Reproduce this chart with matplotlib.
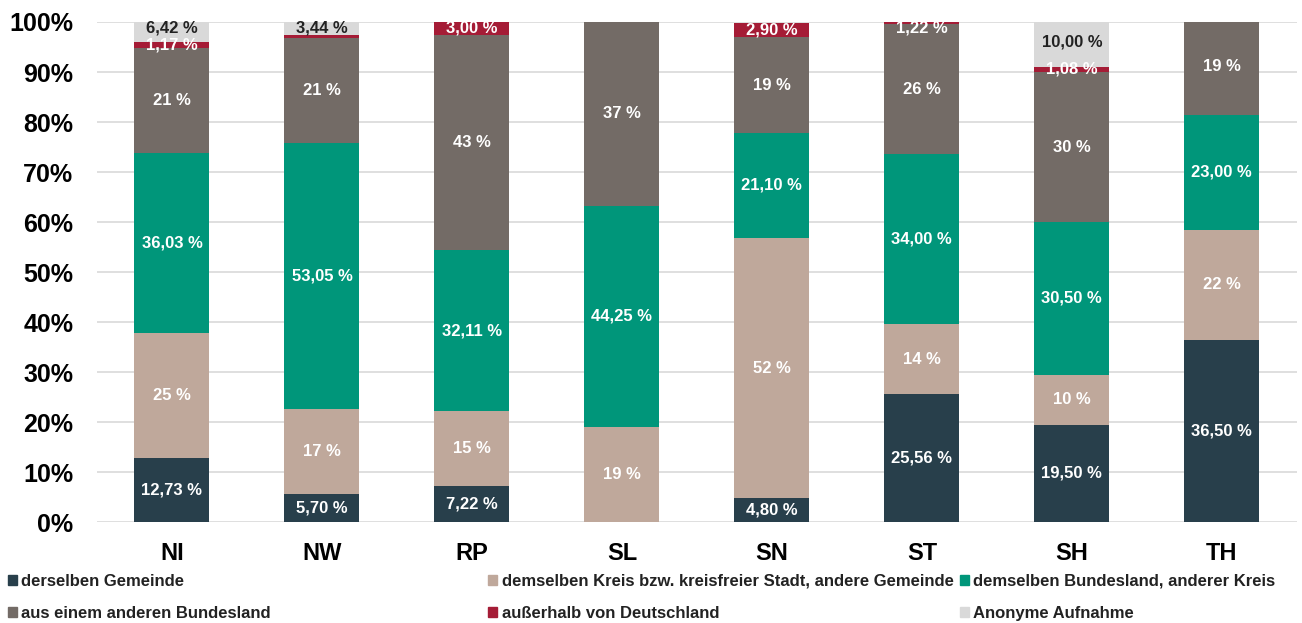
import matplotlib.pyplot as plt
import matplotlib.patches as mpatches
import numpy as np

plt.rcParams['font.family'] = ['Liberation Sans', 'DejaVu Sans']

laender = ['NI', 'NW', 'RP', 'SL', 'SN', 'ST', 'SH', 'TH']

serien = ['derselben Gemeinde',
          'demselben Kreis bzw. kreisfreier Stadt, andere Gemeinde',
          'demselben Bundesland, anderer Kreis',
          'aus einem anderen Bundesland',
          'außerhalb von Deutschland',
          'Anonyme Aufnahme']

gemeinde = [12.73, 5.70, 7.22, 0, 4.80, 25.56, 19.50, 36.50]
kreis = [25, 17, 15, 19, 52, 14, 10, 22]
bundesland = [36.03, 53.05, 32.11, 44.25, 21.10, 34.00, 30.50, 23.00]
anderes_bl = [21, 21, 43, 37, 19, 26, 30, 19]
ausland = [1.17, 0.6, 3.00, 0, 2.90, 1.22, 1.08, 0]
anonym = [6.42, 3.44, 0, 0, 0, 0, 10.00, 0]

farben = ['#283F4B', '#BFA89B', '#00967A', '#736B66', '#A51C36', '#D9D9D9']
# decimal places of each series' labels
dezimal = [2, 0, 2, 0, 2, 2]
textfarben = ['white', 'white', 'white', 'white', 'white', '#222222']

daten = np.array([gemeinde, kreis, bundesland, anderes_bl, ausland, anonym])

fig = plt.figure(figsize=(13.02, 6.23), dpi=100)
ax = fig.add_axes([0.0745, 0.162, 0.9215, 0.8027])

x = np.arange(len(laender))
unten = np.zeros(len(laender))
handles = []
for i, name in enumerate(serien):
    ax.bar(x, daten[i], 0.5, bottom=unten, color=farben[i], zorder=2)
    handles.append(mpatches.Patch(color=farben[i], label=name))
    for j in range(len(laender)):
        wert = daten[i][j]
        if wert < 1:
            continue
        if dezimal[i] == 2:
            txt = f'{wert:.2f} %'.replace('.', ',')
        else:
            txt = f'{wert:.0f} %'
        # keep labels inside the plot area like Excel does
        ypos = min(unten[j] + wert / 2, 98.7)
        ax.text(x[j], ypos, txt, ha='center', va='center',
                color=textfarben[i], fontsize=12, fontweight='bold', zorder=3)
    unten += daten[i]

ax.set_xlim(-0.5, len(laender) - 0.5)
ax.set_ylim(0, 100)
ax.set_yticks(np.arange(0, 101, 10))
ax.set_yticklabels([f'{v}%' for v in range(0, 101, 10)], fontsize=18, fontweight='bold')
ax.set_xticks(x)
ax.set_xticklabels(laender, fontsize=17, fontweight='bold')
ax.tick_params(axis='y', length=0, pad=17)
ax.tick_params(axis='x', length=0, pad=14)
ax.yaxis.grid(True, color='#D9D9D9', linewidth=1.2, zorder=0)
for s in ax.spines.values():
    s.set_visible(False)

# legend: three columns, two rows
spalten = [(0.006, [0, 3]), (0.375, [1, 4]), (0.737, [2, 5])]
for xpos, idx in spalten:
    leg = fig.legend([handles[k] for k in idx], [serien[k] for k in idx],
                     loc='upper left', bbox_to_anchor=(xpos, 0.079), frameon=False,
                     fontsize=12, handlelength=0.55, handleheight=0.55,
                     handletextpad=0.25, labelspacing=1.03, borderaxespad=0,
                     borderpad=0)
    for t in leg.get_texts():
        t.set_fontweight('bold')
        t.set_color('#222222')

fig.savefig('out.png', dpi=100)
